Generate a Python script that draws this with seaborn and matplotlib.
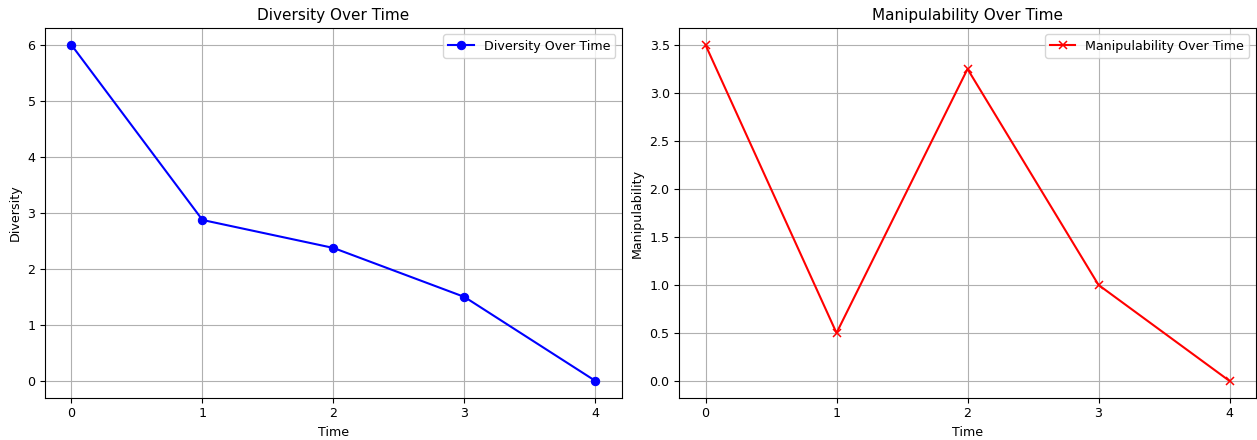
import pandas as pd
import numpy as np
import matplotlib
matplotlib.use("Agg")
import matplotlib.pyplot as plt
import seaborn as sns

# ------------------------
# Data
# ------------------------
time = [0, 1, 2, 3, 4]
diversity = [6.0, 2.875, 2.375, 1.5, 0.0]
manipulability = [3.5, 0.5, 3.25, 1.0, 0.0]

df = pd.DataFrame({"Time": time, "Diversity": diversity, "Manipulability": manipulability})

plt.rcParams.update({"font.size": 9.1, "axes.titlesize": 11, "axes.labelsize": 9.1,
                     "xtick.labelsize": 9.1, "ytick.labelsize": 9.1, "legend.fontsize": 9.1})

# ------------------------
# Plot
# ------------------------
fig, axes = plt.subplots(1, 2, figsize=(12.57, 4.4), dpi=100)

sns.lineplot(data=df, x="Time", y="Diversity", ax=axes[0], color="blue",
             marker="o", markersize=6, markeredgecolor="blue",
             label="Diversity Over Time")
axes[0].set_title("Diversity Over Time")

sns.lineplot(data=df, x="Time", y="Manipulability", ax=axes[1], color="red",
             marker="x", markersize=5.5, markeredgecolor="red", markeredgewidth=1.1,
             label="Manipulability Over Time")
axes[1].set_title("Manipulability Over Time")

for ax in axes:
    ax.grid(True)
    ax.set_xticks(time)
    ax.legend(loc="upper right")

plt.subplots_adjust(left=0.036, right=0.999, top=0.936, bottom=0.096, wspace=0.1)
plt.savefig("out.png", dpi=100)
